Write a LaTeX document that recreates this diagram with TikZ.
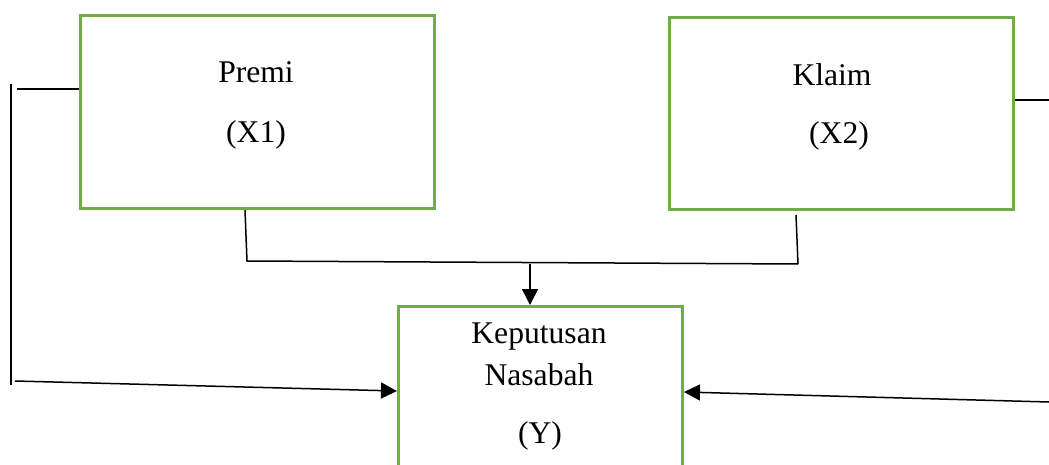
\documentclass[tikz,border=0pt]{standalone}
\usepackage{fontspec}
\setmainfont{Liberation Serif}
\usetikzlibrary{arrows.meta}
\definecolor{boxgreen}{HTML}{70AD47}
\tikzset{
  box/.style={draw=boxgreen, line width=1.5pt, fill=white, anchor=north west, inner sep=0pt},
  lbl/.style={font=\fontsize{15.8}{19}\selectfont, inner sep=0pt},
  conn/.style={draw=black, line width=0.75pt},
  arr/.style={conn, -{Triangle[length=8pt,width=8pt]}}
}
\begin{document}
\begin{tikzpicture}[x=0.5pt,y=-0.5pt]
\useasboundingbox (0,0) rectangle (1049,465);
\clip (0,0) rectangle (1049,465);
% boxes
\node[box, minimum width=177pt, minimum height=96.5pt] (x1) at (79,14) {};
\node[box, minimum width=172pt, minimum height=96pt] (x2) at (668,16) {};
\node[box, minimum width=142pt, minimum height=110pt] (y) at (397,305) {};
% labels
\node[lbl] (t1a) at (256,72) {Premi};
\node[lbl] (t1b) at (256,135) {(X1)};
\node[lbl] (t2a) at (832,75) {Klaim};
\node[lbl] (t2b) at (839,136) {(X2)};
\node[lbl] (tya) at (539,337) {Keputusan};
\node[lbl] (tyb) at (539,375) {Nasabah};
\node[lbl] (tyc) at (540,436) {(Y)};
% coordinates for free ends
\coordinate (a1) at (245,210);
\coordinate (a2) at (247,261);
\coordinate (b1) at (796,215);
\coordinate (b2) at (798,264);
\coordinate (j) at (530,264);
\coordinate (l1) at (17,89);
\coordinate (lv1) at (11,84);
\coordinate (lv2) at (11,385);
\coordinate (l3) at (15,381);
\coordinate (ltip) at (397,391);
\coordinate (r1) at (1015,100);
\coordinate (r2) at (1049,100);
\coordinate (r3) at (1049,402);
\coordinate (rtip) at (681,392);
% connectors
\draw[conn] (l1) -- (x1.west |- l1);
\draw[conn] (lv1) -- (lv2);
\draw[arr] (l3) -- (y.west |- ltip);
\draw[conn] (r1) -- (r2);
\draw[arr] (r3) -- (y.east |- rtip);
\draw[conn] (a1) -- (a2) -- (b2);
\draw[conn] (b1) -- (b2);
\draw[arr] (j) -- (j |- y.north);
\end{tikzpicture}
\end{document}
